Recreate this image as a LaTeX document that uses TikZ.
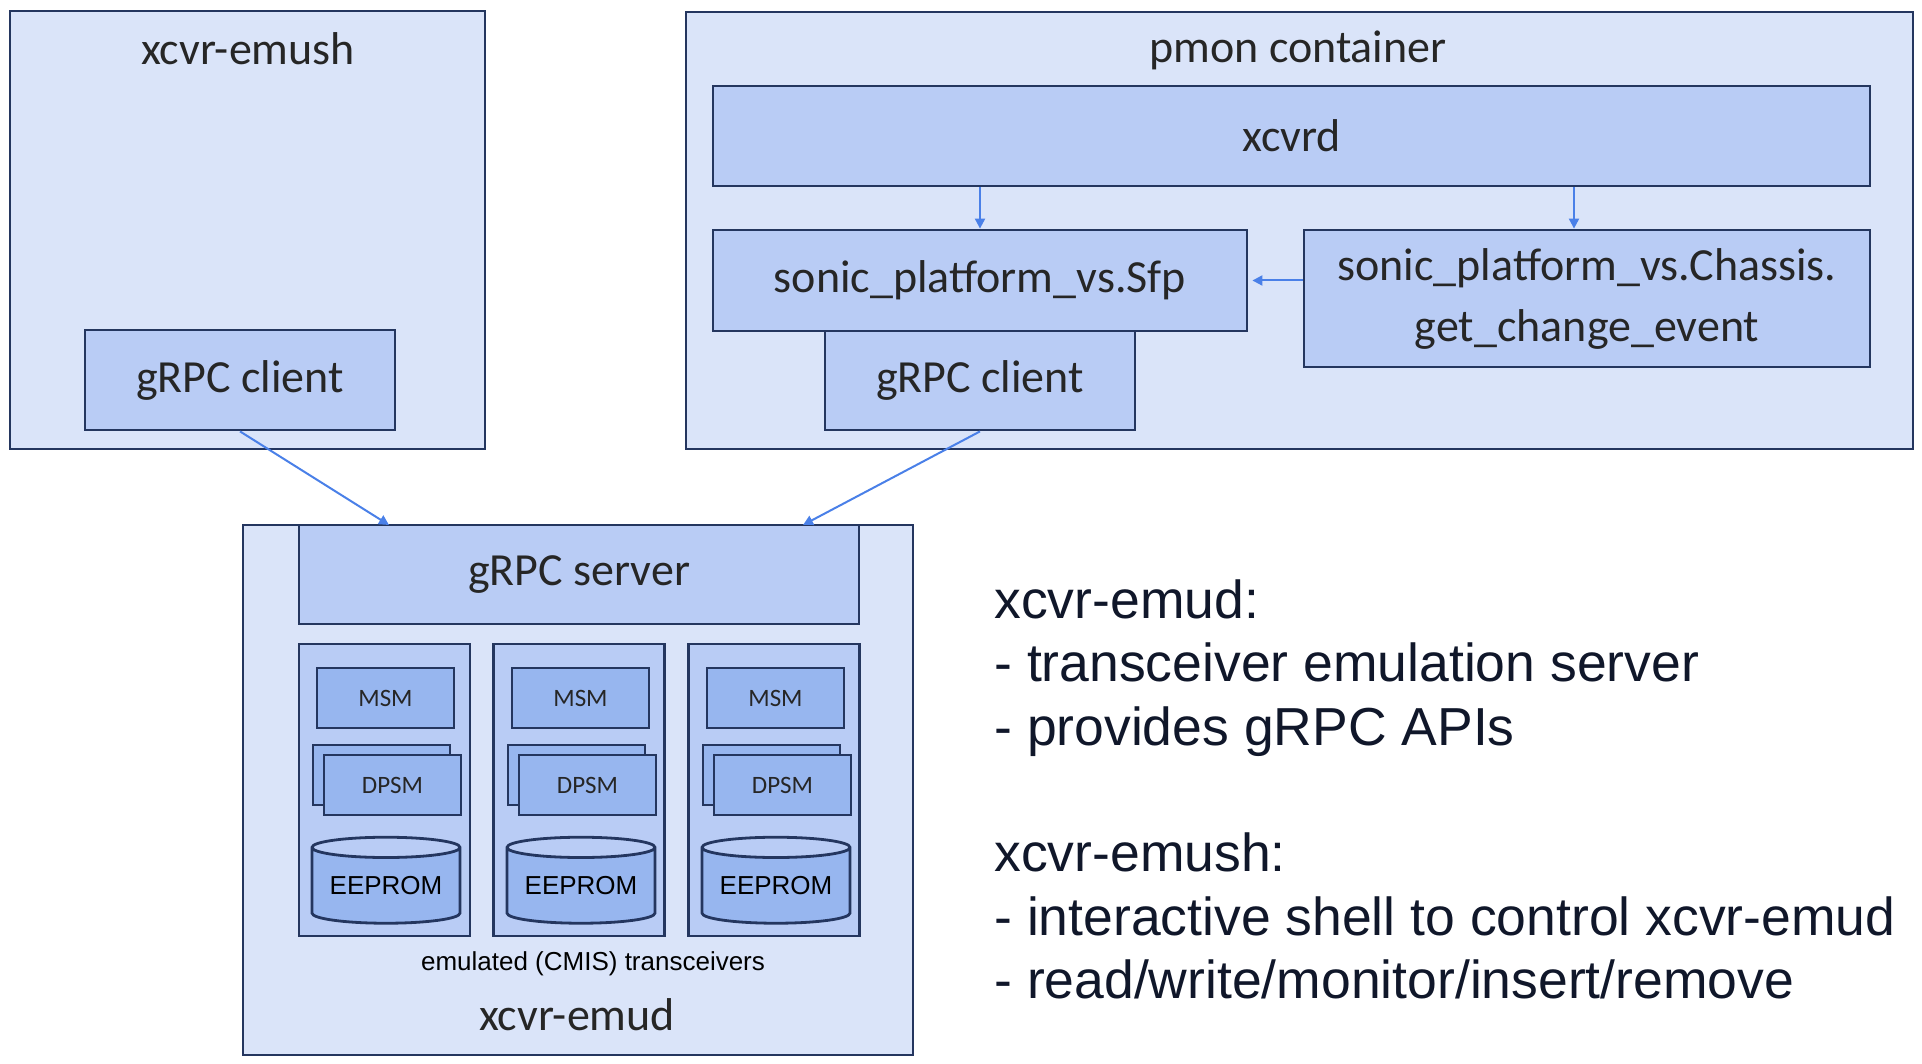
\documentclass[tikz,border=0pt]{standalone}
\usepackage{fontspec}
\setmainfont{Carlito}
\newfontfamily\arialfont{Liberation Sans}
\usetikzlibrary{shapes.geometric,arrows.meta}
\definecolor{outerfill}{HTML}{DAE4F9}
\definecolor{midfill}{HTML}{B9CCF5}
\definecolor{innerfill}{HTML}{97B6EF}
\definecolor{edgecol}{HTML}{24365F}
\definecolor{linkcol}{HTML}{4A80E8}
\definecolor{labelcol}{HTML}{262626}
\definecolor{notecol}{HTML}{10172A}
\tikzset{
  box/.style={draw=edgecol, line width=1.4pt, inner sep=0pt, text=labelcol},
  outerbox/.style={box, fill=outerfill},
  midbox/.style={box, fill=midfill, font=\fontsize{23}{30.5}\selectfont},
  colbox/.style={box, fill=midfill, line width=1.2pt, minimum width=85.5pt, minimum height=146pt},
  smallbox/.style={box, fill=innerfill, minimum width=68.5pt, minimum height=30pt, font=\fontsize{12.5}{15}\selectfont},
  store/.style={cylinder, shape border rotate=90, aspect=0.18, draw=edgecol, line width=1.4pt,
    cylinder uses custom fill, cylinder body fill=innerfill, cylinder end fill=midfill,
    minimum width=74pt, minimum height=43pt, inner sep=0pt, text=black,
    font=\arialfont\fontsize{13}{15}\selectfont},
  title/.style={text=labelcol, font=\fontsize{23}{28}\selectfont},
  note/.style={anchor=base west, inner sep=0pt, text=notecol, font=\arialfont\fontsize{26.75}{32}\selectfont},
  link/.style={draw=linkcol, line width=1pt, -{Triangle[length=5pt,width=5pt]}},
}
\begin{document}
\begin{tikzpicture}[x=0.5pt, y=-0.5pt]
\useasboundingbox (0,0) rectangle (1922,1064);
% shell side
\node[outerbox, minimum width=237.5pt, minimum height=219pt] (emush) at (247.5,230){};
\node[title] (emushtitle) at (248,49){xcvr-emush};
\node[midbox, minimum width=155pt, minimum height=50pt] (eclient) at (240,380){gRPC client};
% pmon container
\node[outerbox, minimum width=613.5pt, minimum height=218.5pt] (pmon) at (1299.5,230.5){};
\node[title] (pmontitle) at (1298,50){pmon container};
\node[midbox, minimum width=578.5pt, minimum height=50pt] (xcvrd) at (1291.5,136){xcvrd};
\node[midbox, minimum width=267pt, minimum height=50.5pt] (sfp) at (980,280.5){sonic\_platform\_vs.Sfp};
\node[midbox, minimum width=283pt, minimum height=68.5pt, align=center] (chassis) at (1587,298.5){sonic\_platform\_vs.Chassis.\\get\_change\_event};
\node[midbox, minimum width=155pt, minimum height=49.5pt] (pclient) at (980,380.5){gRPC client};
\draw[link] (xcvrd.south -| sfp.north) -- (sfp.north);
\draw[link] ([xshift=-6.5pt]chassis.north |- xcvrd.south) -- ([xshift=-6.5pt]chassis.north);
\draw[link, shorten >=2pt] (chassis.west |- sfp.east) -- (sfp.east);
% emulation daemon
\node[outerbox, minimum width=335pt, minimum height=265pt] (emud) at (578,790){};
\node[midbox, minimum width=280pt, minimum height=49.5pt] (server) at (579,574.5){gRPC server};
\node[colbox] (col1) at (384.5,790){};
\node[smallbox] (msm1) at (385.5,698){MSM};
\node[smallbox] (dpsmb1) at (381.5,775){};
\node[smallbox] (dpsm1) at (392.5,785){DPSM};
\node[store] (eeprom1) at (386,886){EEPROM};
\node[colbox] (col2) at (579,790){};
\node[smallbox] (msm2) at (580.5,698){MSM};
\node[smallbox] (dpsmb2) at (576.5,775){};
\node[smallbox] (dpsm2) at (587.5,785){DPSM};
\node[store] (eeprom2) at (581,886){EEPROM};
\node[colbox] (col3) at (774,790){};
\node[smallbox] (msm3) at (775.5,698){MSM};
\node[smallbox] (dpsmb3) at (771.5,775){};
\node[smallbox] (dpsm3) at (782.5,785){DPSM};
\node[store] (eeprom3) at (776,886){EEPROM};
\node[text=black, font=\arialfont\fontsize{13}{15}\selectfont] (emulated) at (593,964){emulated (CMIS) transceivers};
\node[title] (emudtitle) at (577,1015){xcvr-emud};
\coordinate (srvL) at (389,525);
\coordinate (srvR) at (803,525);
\draw[link] (eclient.south) -- (srvL);
\draw[link] (pclient.south) -- (srvR);
% notes
\node[note] (note1) at (994,618){xcvr-emud:};
\node[note] (note2) at (994,681){- transceiver emulation server};
\node[note] (note3) at (994,745){- provides gRPC APIs};
\node[note] (note4) at (994,871){xcvr-emush:};
\node[note] (note5) at (994,935){- interactive shell to control xcvr-emud};
\node[note] (note6) at (994,998){- read/write/monitor/insert/remove};
\end{tikzpicture}
\end{document}
